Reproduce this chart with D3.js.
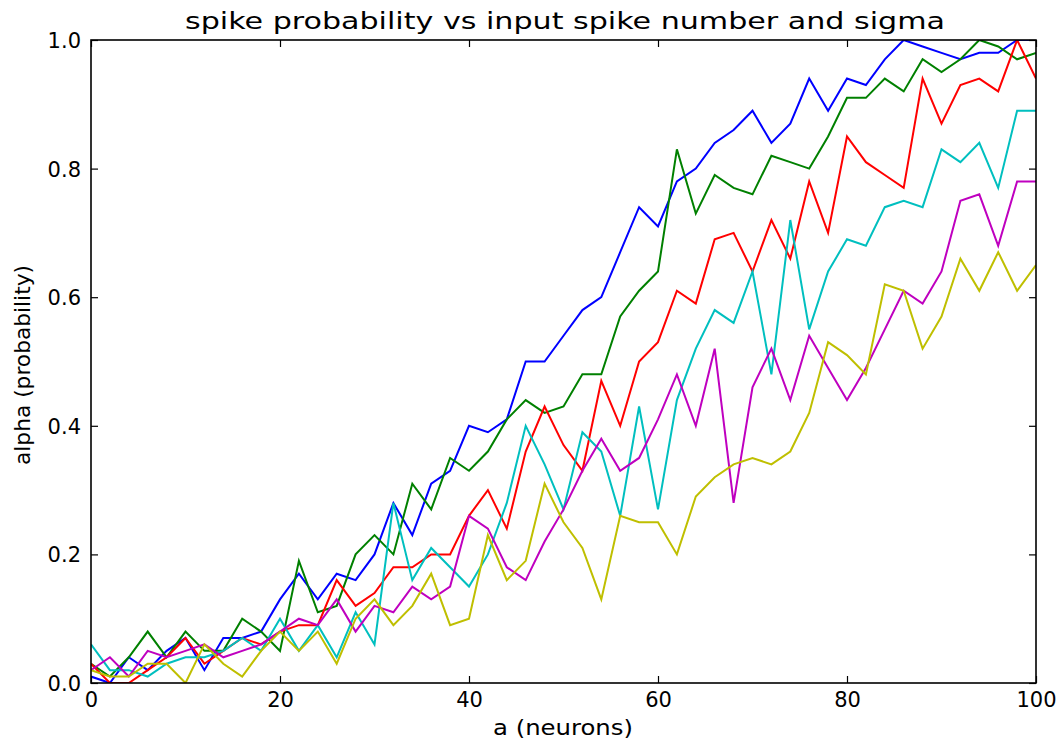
<!DOCTYPE html>
<html>
<head>
<meta charset="utf-8">
<script src="https://cdn.jsdelivr.net/npm/d3@7"></script>
<style>
  html, body { margin: 0; padding: 0; background: #ffffff; }
  svg { display: block; }
  text { font-family: "DejaVu Sans", sans-serif; fill: #000; }
</style>
</head>
<body>
<svg id="chart" width="1064" height="745"></svg>
<script>
const titleText = "spike probability vs input spike number and sigma";
const xLabelText = "a (neurons)";
const yLabelText = "alpha (probability)";

const xValues = [0,2,4,6,8,10,12,14,16,18,20,22,24,26,28,30,32,34,36,38,40,42,44,46,48,50,52,54,56,58,60,62,64,66,68,70,72,74,76,78,80,82,84,86,88,90,92,94,96,98,100];

const blueValues = [0.01,0.00,0.04,0.02,0.05,0.07,0.02,0.07,0.07,0.08,0.13,0.17,0.13,0.17,0.16,0.20,0.28,0.23,0.31,0.33,0.40,0.39,0.41,0.50,0.50,0.54,0.58,0.60,0.67,0.74,0.71,0.78,0.80,0.84,0.86,0.89,0.84,0.87,0.94,0.89,0.94,0.93,0.97,1.00,0.99,0.98,0.97,0.98,0.98,1.00,1.00];
const greenValues = [0.03,0.01,0.04,0.08,0.04,0.08,0.05,0.05,0.10,0.08,0.05,0.19,0.11,0.12,0.20,0.23,0.20,0.31,0.27,0.35,0.33,0.36,0.41,0.44,0.42,0.43,0.48,0.48,0.57,0.61,0.64,0.83,0.73,0.79,0.77,0.76,0.82,0.81,0.80,0.85,0.91,0.91,0.94,0.92,0.97,0.95,0.97,1.00,0.99,0.97,0.98];
const redValues = [0.03,0.00,0.00,0.02,0.04,0.07,0.03,0.05,0.07,0.06,0.08,0.09,0.09,0.16,0.12,0.14,0.18,0.18,0.20,0.20,0.26,0.30,0.24,0.36,0.43,0.37,0.33,0.47,0.40,0.50,0.53,0.61,0.59,0.69,0.70,0.64,0.72,0.66,0.78,0.70,0.85,0.81,0.79,0.77,0.94,0.87,0.93,0.94,0.92,1.00,0.94];
const cyanValues = [0.06,0.02,0.02,0.01,0.03,0.04,0.04,0.05,0.07,0.05,0.10,0.05,0.09,0.04,0.11,0.06,0.28,0.16,0.21,0.18,0.15,0.20,0.28,0.40,0.34,0.27,0.39,0.36,0.26,0.43,0.27,0.44,0.52,0.58,0.56,0.64,0.48,0.72,0.55,0.64,0.69,0.68,0.74,0.75,0.74,0.83,0.81,0.84,0.77,0.89,0.89];
const magentaValues = [0.02,0.04,0.01,0.05,0.04,0.05,0.06,0.04,0.05,0.06,0.08,0.10,0.09,0.13,0.08,0.12,0.11,0.15,0.13,0.15,0.26,0.24,0.18,0.16,0.22,0.27,0.33,0.38,0.33,0.35,0.41,0.48,0.40,0.52,0.28,0.46,0.52,0.44,0.54,0.49,0.44,0.49,0.55,0.61,0.59,0.64,0.75,0.76,0.68,0.78,0.78];
const yellowValues = [0.02,0.01,0.01,0.03,0.03,0.00,0.06,0.03,0.01,0.05,0.08,0.05,0.08,0.03,0.10,0.13,0.09,0.12,0.17,0.09,0.10,0.23,0.16,0.19,0.31,0.25,0.21,0.13,0.26,0.25,0.25,0.20,0.29,0.32,0.34,0.35,0.34,0.36,0.42,0.53,0.51,0.48,0.62,0.61,0.52,0.57,0.66,0.61,0.67,0.61,0.65];

const seriesValues = [blueValues, greenValues, redValues, cyanValues, magentaValues, yellowValues];
const seriesColors = ["#0000ff", "#008000", "#ff0000", "#00bfbf", "#bf00bf", "#bfbf00"];

const xTicks = [0, 20, 40, 60, 80, 100];
const yTicks = [0.0, 0.2, 0.4, 0.6, 0.8, 1.0];

const W = 1064, H = 745;
const margin = { left: 91, right: 28, top: 40, bottom: 62 };
const iw = W - margin.left - margin.right;
const ih = H - margin.top - margin.bottom;

const svg = d3.select("#chart");
const g = svg.append("g").attr("transform", `translate(${margin.left},${margin.top})`);

const x = d3.scaleLinear().domain([0, 100]).range([0, iw]);
const y = d3.scaleLinear().domain([0, 1]).range([ih, 0]);

svg.append("defs").append("clipPath").attr("id", "clip")
  .append("rect").attr("x", 0).attr("y", 0).attr("width", iw).attr("height", ih);

const line = d3.line().x((d, i) => x(xValues[i])).y(d => y(d));

const lines = g.append("g").attr("clip-path", "url(#clip)");
seriesValues.forEach((vals, k) => {
  lines.append("path")
    .datum(vals)
    .attr("fill", "none")
    .attr("stroke", seriesColors[k])
    .attr("stroke-width", 2)
    .attr("stroke-linejoin", "miter")
    .attr("d", line);
});

const tickLen = 7;
const fs = 21;

const xAxisB = g.append("g").attr("transform", `translate(0,${ih})`)
  .call(d3.axisBottom(x).tickValues(xTicks).tickSizeInner(-tickLen).tickSizeOuter(0).tickFormat(d3.format("d")));
const xAxisT = g.append("g")
  .call(d3.axisTop(x).tickValues(xTicks).tickSizeInner(-tickLen).tickSizeOuter(0).tickFormat(""));
const yAxisL = g.append("g")
  .call(d3.axisLeft(y).tickValues(yTicks).tickSizeInner(-tickLen).tickSizeOuter(0).tickFormat(d3.format(".1f")));
const yAxisR = g.append("g").attr("transform", `translate(${iw},0)`)
  .call(d3.axisRight(y).tickValues(yTicks).tickSizeInner(-tickLen).tickSizeOuter(0).tickFormat(""));

[xAxisB, xAxisT, yAxisL, yAxisR].forEach(a => {
  a.select(".domain").remove();
  a.selectAll(".tick line").attr("stroke", "#000").attr("stroke-width", 1.2);
});

xAxisB.selectAll(".tick text")
  .attr("y", 23.5).attr("dy", 0)
  .attr("font-size", fs).attr("font-family", "DejaVu Sans").attr("fill", "#000");
yAxisL.selectAll(".tick text")
  .attr("x", -10).attr("dy", "0.36em")
  .attr("font-size", fs).attr("font-family", "DejaVu Sans").attr("fill", "#000");

g.append("rect")
  .attr("x", 0).attr("y", 0).attr("width", iw).attr("height", ih)
  .attr("fill", "none").attr("stroke", "#000").attr("stroke-width", 1.6);

svg.append("text")
  .attr("x", 185).attr("y", 28.5)
  .attr("font-size", 23)
  .attr("textLength", 760).attr("lengthAdjust", "spacingAndGlyphs")
  .text(titleText);

svg.append("text")
  .attr("x", 493).attr("y", 735)
  .attr("font-size", 22)
  .attr("textLength", 140).attr("lengthAdjust", "spacingAndGlyphs")
  .text(xLabelText);

svg.append("text")
  .attr("transform", "translate(30,465) rotate(-90)")
  .attr("font-size", 22)
  .attr("textLength", 200).attr("lengthAdjust", "spacingAndGlyphs")
  .text(yLabelText);
</script>
</body>
</html>
